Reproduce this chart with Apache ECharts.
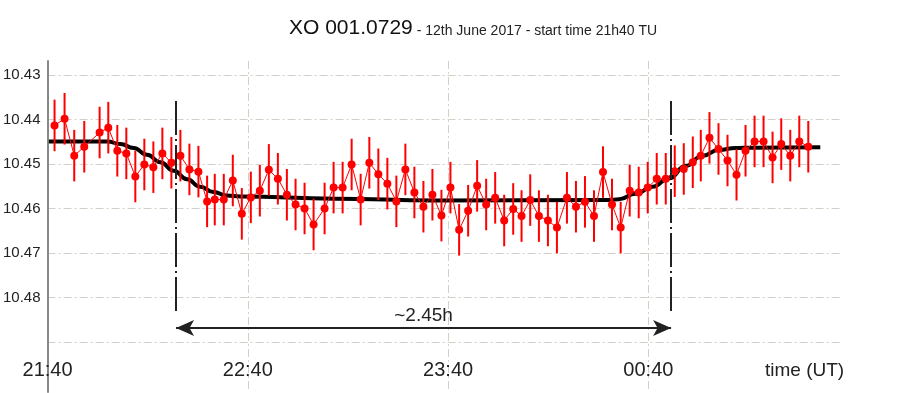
<!DOCTYPE html>
<html><head><meta charset="utf-8">
<script src="https://cdn.jsdelivr.net/npm/echarts@6/dist/echarts.min.js"></script>
<style>html,body{margin:0;padding:0;background:#fff}#c{width:898px;height:393px}</style>
</head><body><div id="c"></div>
<script>
// minutes after 21:40 UT
const times = [2.1,5.1,8.0,11.0,15.6,18.2,20.9,23.6,26.3,29.0,31.7,34.4,37.1,39.8,42.5,45.2,47.8,50.1,52.8,55.5,
58.2,60.9,63.6,66.3,69.0,71.7,74.3,77.0,79.7,83.0,85.7,88.4,91.1,93.8,96.4,99.1,101.8,104.5,107.2,109.9,
112.6,115.3,118.0,120.7,123.3,126.0,128.7,131.4,134.1,136.8,139.5,142.0,144.6,147.2,149.9,152.6,155.6,158.3,161.0,163.7,
166.4,169.1,171.7,174.4,177.1,179.8,182.5,185.2,187.9,190.6,193.3,195.7,198.3,201.0,203.7,206.4,209.1,211.8,214.5,217.2,
219.8,222.5,225.2,227.9];
const mags = [10.4413,10.4398,10.4481,10.4461,10.4429,10.4418,10.4470,10.4476,10.4528,10.4501,10.4507,10.4476,10.4497,10.4481,10.4512,10.4517,10.4584,10.4580,10.4580,10.4537,
10.4612,10.4575,10.4560,10.4513,10.4533,10.4569,10.4591,10.4600,10.4636,10.4600,10.4553,10.4553,10.4501,10.4580,10.4497,10.4523,10.4544,10.4584,10.4512,10.4564,
10.4596,10.4569,10.4616,10.4553,10.4648,10.4605,10.4549,10.4591,10.4576,10.4627,10.4601,10.4617,10.4581,10.4617,10.4627,10.4643,10.4576,10.4596,10.4585,10.4617,
10.4518,10.4591,10.4643,10.4560,10.4564,10.4553,10.4533,10.4533,10.4516,10.4511,10.4496,10.4481,10.4441,10.4466,10.4492,10.4524,10.4470,10.4449,10.4449,10.4485,
10.4455,10.4481,10.4449,10.4461];
const errHalf = 0.0058;
const modelTimes = [0.4,17.9,21.8,25.8,29.8,33.8,37.8,41.8,45.7,49.7,53.7,57.7,86.1,116.0,168.2,171.2,176.2,181.2,186.2,191.2,196.1,201.1,206.1,211.1,231.5];
const modelMags = [10.4449,10.4449,10.4455,10.4464,10.4479,10.4496,10.4515,10.4534,10.4551,10.4563,10.4571,10.4573,10.4578,10.4582,10.4581,10.4579,10.4567,10.4551,10.4532,10.4504,10.4482,10.4468,10.4464,10.4463,10.4462];
const xLabelValues = [0,60,120,180];
const xGridValues = [60,120,180];
const yLabelValues = [10.43,10.44,10.45,10.46,10.47,10.48];
const yGridValues = [10.43,10.44,10.45,10.46,10.47,10.48,10.49];
const transitStart = 38.5, transitEnd = 186.8;
const markerTop = 10.4358, markerBottom = 10.4833, arrowLevel = 10.4869;
const durationLabel = '~2.45h';
const titleMain = 'XO 001.0729';
const titleSub = ' - 12th June 2017 - start time 21h40 TU';
const xName = 'time (UT)';

const FONT = 'Liberation Sans, Arial, sans-serif';
const gridColor = '#d4d0c8';
const dashDot = [8,3,2,3];

function fmtTime(v){
  let tot = (21*60+40+Math.round(v)) % 1440;
  const h = Math.floor(tot/60), m = tot%60;
  return String(h).padStart(2,'0')+':'+String(m).padStart(2,'0');
}

const chart = echarts.init(document.getElementById('c'), null, {renderer:'canvas'});
const pts = times.map((t,i)=>[t,mags[i]]);
const model = modelTimes.map((t,i)=>[t,modelMags[i]]);
const markerStyle = {color:'#222', width:2, type:[34,4,2,4]};

chart.setOption({
  animation:false,
  backgroundColor:'#fff',
  textStyle:{fontFamily:FONT},
  title:{
    left:284, top:10,
    text:'{a|'+titleMain+'}{b|'+titleSub+'}',
    textStyle:{fontWeight:'normal', rich:{
      a:{fontSize:21, color:'#111', fontFamily:FONT, fontWeight:'normal', verticalAlign:'bottom', lineHeight:24},
      b:{fontSize:14, color:'#222', fontFamily:FONT, fontWeight:'normal', verticalAlign:'bottom', lineHeight:24, padding:[0,0,1,0]}
    }}
  },
  grid:{left:47, right:56, top:61, bottom:1, containLabel:false},
  xAxis:{
    type:'value', min:0, max:238,
    name:xName, nameLocation:'end', nameGap:-77,
    nameTextStyle:{fontSize:19, color:'#222', fontFamily:FONT, verticalAlign:'bottom', padding:[0,0,12,0]},
    axisLine:{show:false},
    axisTick:{show:false, customValues:xGridValues},
    axisLabel:{inside:true, margin:12, fontSize:20, color:'#222', fontFamily:FONT,
      customValues:xLabelValues, formatter:fmtTime},
    splitLine:{show:true, lineStyle:{color:gridColor, width:1, type:dashDot}}
  },
  yAxis:{
    type:'value', inverse:true, min:10.4268, max:10.5013,
    axisLine:{show:true, lineStyle:{color:'#888', width:2}},
    axisTick:{show:false, customValues:yGridValues},
    axisLabel:{margin:7, fontSize:15, color:'#222', fontFamily:FONT,
      customValues:yLabelValues, formatter:v=>v.toFixed(2)},
    splitLine:{show:true, lineStyle:{color:gridColor, width:1, type:dashDot}}
  },
  series:[
    {
      type:'line', data:model, smooth:true, smoothMonotone:'x', symbol:'none', z:2,
      lineStyle:{color:'#000', width:4},
      markLine:{
        silent:true, animation:false, symbol:'none',
        data:[
          [{coord:[transitStart,markerTop], symbol:'none', lineStyle:markerStyle},{coord:[transitStart,markerBottom], symbol:'none'}],
          [{coord:[transitEnd,markerTop], symbol:'none', lineStyle:markerStyle},{coord:[transitEnd,markerBottom], symbol:'none'}],
          [{coord:[transitStart,arrowLevel], symbol:'arrow', symbolSize:[12,18],
            lineStyle:{color:'#222', width:2, type:'solid'},
            label:{show:true, position:'middle', formatter:durationLabel, fontSize:19, color:'#222', fontFamily:FONT, distance:3}},
           {coord:[transitEnd,arrowLevel], symbol:'arrow', symbolSize:[12,18]}]
        ],
        label:{show:false}
      }
    },
    {
      type:'custom', z:3, data:pts,
      renderItem:(params, api)=>{
        const t = api.value(0), m = api.value(1);
        const a = api.coord([t, m-errHalf]), b = api.coord([t, m+errHalf]);
        return {type:'line', shape:{x1:a[0],y1:a[1],x2:b[0],y2:b[1]}, style:{stroke:'#f00', lineWidth:2}};
      }
    },
    {
      type:'line', data:pts, z:4, symbol:'circle', symbolSize:8,
      lineStyle:{color:'#f00', width:1}, itemStyle:{color:'#f00'}
    }
  ]
});
</script></body></html>
